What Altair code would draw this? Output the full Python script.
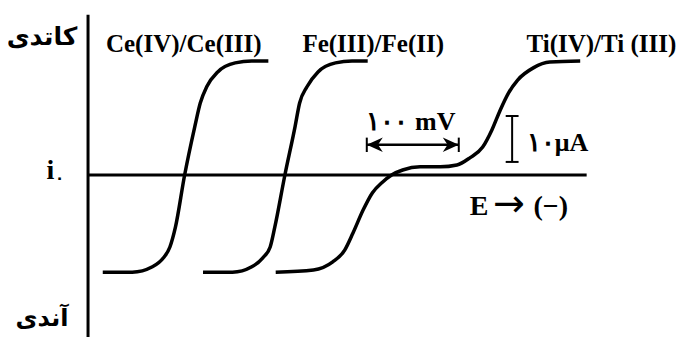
import altair as alt
import pandas as pd

ce_E = [16, 48, 70, 82, 89, 95, 105, 116, 122, 129, 141, 160, 178, 196]
ce_i = [-21.6, -21.6, -20.4, -18.4, -16.0, -11.6, 0.0, 10.7, 16.0, 19.6, 22.9, 24.9, 25.3, 25.3]
fe_E = [125, 157, 178, 190, 198, 203, 214, 225, 230, 238, 250, 269, 287, 304]
fe_i = [-21.6, -21.6, -20.4, -18.4, -16.0, -11.6, 0.0, 10.7, 16.0, 19.6, 22.9, 24.9, 25.3, 25.3]
ti_E = [204, 245, 266, 279, 288, 299, 309, 320, 330, 342, 361, 383, 401, 415, 429,
        439, 448, 457, 467, 484, 502, 535]
ti_i = [-21.6, -21.1, -19.3, -16.7, -12.9, -7.8, -4.0, -1.6, 0.0, 1.1, 1.8, 1.8, 2.2,
        3.8, 6.2, 10.0, 14.4, 18.2, 21.1, 23.8, 25.1, 25.3]

couple_labels = ["Ce(IV)/Ce(III)", "Fe(III)/Fe(II)", "Ti(IV)/Ti (III)"]
label_E = [104, 310, 558]
label_i = [29.0, 29.0, 29.0]

# scale bars: 100 mV and 10 μA
mv_bar = [303, 403]
mv_bar_i = 6.7
ua_bar_E = 461
ua_bar = [2.9, 13.1]

# axes extents
E_axis_end = 542
i_axis = [-36, 35.6]

rows = []
for name, Es, Is in [("Ce", ce_E, ce_i), ("Fe", fe_E, fe_i), ("Ti", ti_E, ti_i)]:
    for e, i in zip(Es, Is):
        rows.append({"couple": name, "E": e, "i": i})
curves_df = pd.DataFrame(rows)

xs = alt.Scale(domain=[-87, 641.3], nice=False, zero=False)
ys = alt.Scale(domain=[-36.0, 37.1], nice=False, zero=False)
X = lambda f: alt.X(f, scale=xs, axis=None)
Y = lambda f: alt.Y(f, scale=ys, axis=None)

curves = alt.Chart(curves_df).mark_line(
    color="black", strokeWidth=3.5, interpolate="monotone", strokeCap="butt"
).encode(x=X("E:Q"), y=Y("i:Q"), detail="couple:N", order="E:Q")

axes_df = pd.DataFrame([
    {"x": 0, "x2": 0, "y": i_axis[0], "y2": i_axis[1]},
    {"x": 0, "x2": E_axis_end, "y": 0, "y2": 0},
])
axes = alt.Chart(axes_df).mark_rule(color="black", strokeWidth=3).encode(
    x=X("x:Q"), x2="x2:Q", y=Y("y:Q"), y2="y2:Q")

# 100 mV double arrow
shaft = alt.Chart(pd.DataFrame([{"x": mv_bar[0], "x2": mv_bar[1], "y": mv_bar_i}])).mark_rule(
    color="black", strokeWidth=2.5).encode(x=X("x:Q"), x2="x2:Q", y=Y("y:Q"))
ends = alt.Chart(pd.DataFrame([
    {"x": mv_bar[0], "y": mv_bar_i - 1.6, "y2": mv_bar_i + 1.6},
    {"x": mv_bar[1], "y": mv_bar_i - 1.6, "y2": mv_bar_i + 1.6},
])).mark_rule(color="black", strokeWidth=2).encode(x=X("x:Q"), y=Y("y:Q"), y2="y2:Q")
head_l = alt.Chart(pd.DataFrame([{"x": mv_bar[0], "y": mv_bar_i}])).mark_point(
    shape="M0,0 L2,-0.9 L1.4,0 L2,0.9 Z", filled=True, color="black", size=256, opacity=1
).encode(x=X("x:Q"), y=Y("y:Q"))
head_r = alt.Chart(pd.DataFrame([{"x": mv_bar[1], "y": mv_bar_i}])).mark_point(
    shape="M0,0 L-2,-0.9 L-1.4,0 L-2,0.9 Z", filled=True, color="black", size=256, opacity=1
).encode(x=X("x:Q"), y=Y("y:Q"))

# 10 μA I-bar
ibar = alt.Chart(pd.DataFrame([{"x": ua_bar_E, "y": ua_bar[0], "y2": ua_bar[1]}])).mark_rule(
    color="black", strokeWidth=2).encode(x=X("x:Q"), y=Y("y:Q"), y2="y2:Q")
caps = alt.Chart(pd.DataFrame([
    {"x": ua_bar_E - 7, "x2": ua_bar_E + 7, "y": ua_bar[0]},
    {"x": ua_bar_E - 7, "x2": ua_bar_E + 7, "y": ua_bar[1]},
])).mark_rule(color="black", strokeWidth=2).encode(x=X("x:Q"), x2="x2:Q", y=Y("y:Q"))

serif = "Liberation Serif"

couples = alt.Chart(pd.DataFrame({"t": couple_labels, "x": label_E, "y": label_i})).mark_text(
    font=serif, fontWeight="bold", fontSize=25, align="center", baseline="middle", color="black"
).encode(x=X("x:Q"), y=Y("y:Q"), text="t:N")

def txt(t, x, y, size, font=serif, align="center", weight="bold"):
    return alt.Chart(pd.DataFrame([{"t": t, "x": x, "y": y}])).mark_text(
        font=font, fontWeight=weight, fontSize=size, align=align, baseline="middle", color="black"
    ).encode(x=X("x:Q"), y=Y("y:Q"), text="t:N")

labels = [
    txt("کاتدی", -50, 30.7, 25, font="DejaVu Sans"),
    txt("آندی", -50, -32.0, 24, font="DejaVu Sans"),
    txt("i", -41, 0.9, 28),
    txt("۰", -31, -0.6, 15, font="DejaVu Sans"),
    txt("۱۰۰ mV", 351, 11.8, 26),
    txt("۱۰μA", 477, 7.0, 26, align="left"),
    txt("E", 425, -7.2, 28),
    txt("→", 457.5, -6.6, 38, font="DejaVu Sans", weight="normal"),
    txt("(−)", 503, -7.2, 28),
]

chart = alt.layer(curves, axes, shaft, ends, head_l, head_r, ibar, caps, couples, *labels).properties(
    width=670, height=329, padding=0, autosize=alt.AutoSizeParams(type="none"),
    background="white"
).configure_view(stroke=None)

chart.save("out.html", embed_options={"renderer": "svg", "actions": False})
